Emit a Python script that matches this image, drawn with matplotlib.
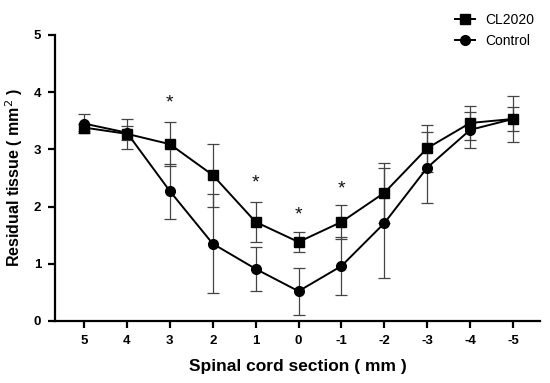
import matplotlib
matplotlib.use('Agg')
import matplotlib.pyplot as plt
from matplotlib.lines import Line2D

plt.rcParams['font.family'] = ['Liberation Sans', 'DejaVu Sans']

sections = ['5', '4', '3', '2', '1', '0', '-1', '-2', '-3', '-4', '-5']
cl2020_mean = [3.38, 3.27, 3.09, 2.55, 1.73, 1.38, 1.73, 2.24, 3.02, 3.46, 3.53]
cl2020_err = [0.06, 0.26, 0.38, 0.55, 0.35, 0.18, 0.30, 0.52, 0.41, 0.30, 0.21]
control_mean = [3.45, 3.29, 2.27, 1.35, 0.91, 0.52, 0.96, 1.71, 2.68, 3.34, 3.53]
control_err = [0.17, 0.12, 0.48, 0.86, 0.39, 0.41, 0.50, 0.96, 0.62, 0.32, 0.40]
# significance marks: (section index, y position)
star_idx = [2, 4, 5, 6]
star_y = [3.81, 2.41, 1.85, 2.31]

x = list(range(len(sections)))

fig = plt.figure(figsize=(5.5, 3.83), dpi=100)
ax = fig.add_axes([0.1, 0.162, 0.882, 0.747])

err_kw = dict(ecolor='#444444', elinewidth=0.9, capsize=4, capthick=0.9)
ax.errorbar(x, cl2020_mean, yerr=cl2020_err, color='black', marker='s',
            markersize=7, linewidth=1.4, **err_kw)
ax.errorbar(x, control_mean, yerr=control_err, color='black', marker='o',
            markersize=7, linewidth=1.4, **err_kw)

for i, yv in zip(star_idx, star_y):
    ax.text(i, yv, '*', ha='center', va='center', fontsize=14, color='#111111')

ax.set_xlim(-0.676, 10.63)
ax.set_ylim(0, 5)
ax.set_xticks(x)
ax.set_xticklabels(sections)
ax.set_yticks([0, 1, 2, 3, 4, 5])

for s in ['top', 'right']:
    ax.spines[s].set_visible(False)
for s in ['left', 'bottom']:
    ax.spines[s].set_linewidth(1.6)
ax.tick_params(axis='both', width=1.6, length=5, labelsize=9.5, pad=5)
for lab in ax.get_xticklabels() + ax.get_yticklabels():
    lab.set_fontweight('bold')

ax.set_ylabel('Residual tissue ( mm$^2$ )', fontsize=11.5, fontweight='bold', labelpad=6)
ax.set_xlabel('Spinal cord section ( mm )', fontsize=12.5, fontweight='bold', labelpad=9)

handles = [Line2D([], [], color='black', marker='s', markersize=7, linewidth=1.4),
           Line2D([], [], color='black', marker='o', markersize=7, linewidth=1.4)]
fig.legend(handles=handles, labels=['CL2020', 'Control'], loc='upper right',
           bbox_to_anchor=(0.995, 1.0), frameon=False, fontsize=10,
           handlelength=1.4, handletextpad=0.8, labelspacing=0.55)

fig.savefig('out.png', dpi=100)
